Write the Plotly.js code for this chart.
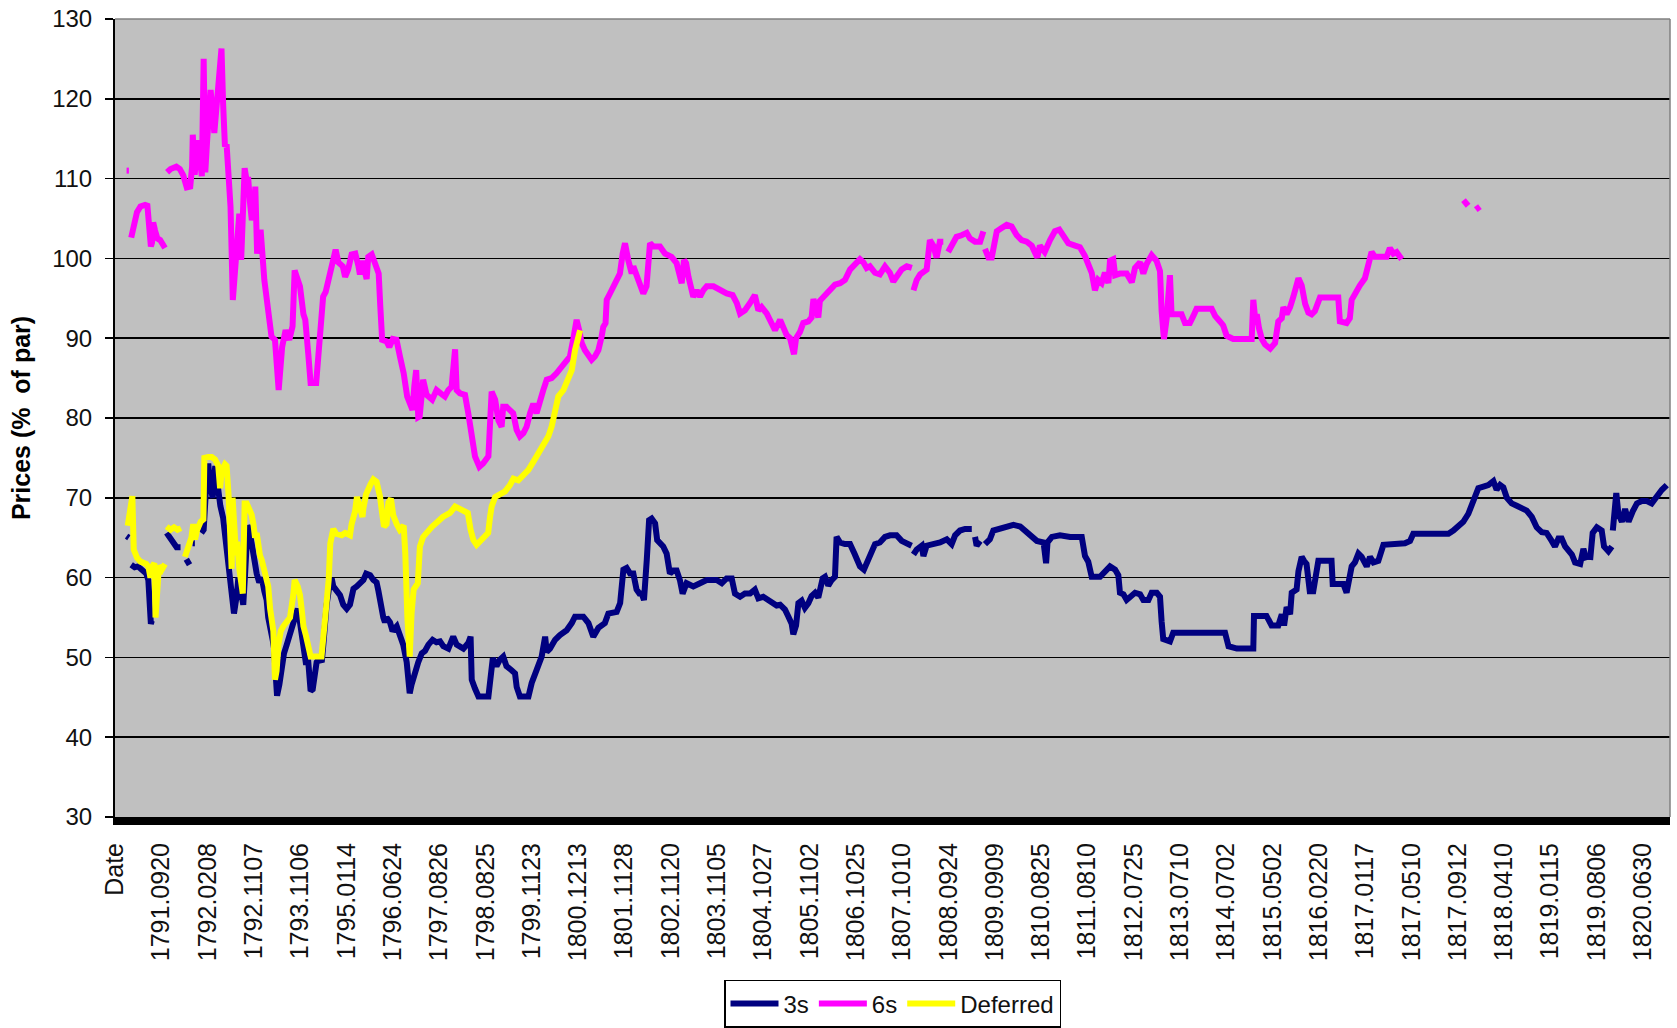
<!DOCTYPE html>
<html>
<head>
<meta charset="utf-8">
<script src="https://cdn.plot.ly/plotly-3.0.1.min.js"></script>
<style>
  html, body { margin: 0; padding: 0; background: #fff; }
  #chart { width: 1677px; height: 1028px; }
</style>
</head>
<body>
<div id="chart"></div>
<script>
// Category axis: one tick label every 20 category positions
const dateLabels = ["Date","1791.0920","1792.0208","1792.1107","1793.1106","1795.0114","1796.0624","1797.0826","1798.0825","1799.1123","1800.1213","1801.1128","1802.1120","1803.1105","1804.1027","1805.1102","1806.1025","1807.1010","1808.0924","1809.0909","1810.0825","1811.0810","1812.0725","1813.0710","1814.0702","1815.0502","1816.0220","1817.0117","1817.0510","1817.0912","1818.0410","1819.0115","1819.0806","1820.0630"];
const labelEvery = 20;

// Series as [category position, price] pairs; null = missing quotes (gap)
const threes = [
[5,65.2],[6,65],null,
[7,61.6],[8.5,61.3],[10,61.4],[12,61],[13.5,60.5],[14.4,59.7],[14.7,58.5],[15.2,55],[15.5,54.2],[15.9,54.6],null,
[22.3,65.6],[23.8,65],[25.2,64.2],[26.6,63.8],[28.3,63.8],null,
[30.8,62.3],[32.2,61.6],null,
[33.5,64.3],[34.5,64.3],null,
[37.3,65.6],[38.3,66],[39.5,72],[40.3,74.3],[41,71.7],[42.2,70],[43.3,74],[44.4,71.2],[45.5,69],[46.7,67.5],[47.9,64.5],[49,62.8],[49.7,60.3],[50.4,58.9],[51.4,55.5],[52.6,57.8],[53.3,60],[54,58.9],[54.7,57.2],[55.4,56.6],[56.2,60.5],[57.3,66.5],[58,66.1],[59,63.9],[60,62.2],[61.2,60.5],[62.3,59.4],[63.4,60],[64.5,58.3],[65.5,57.2],[66.2,55],[67,53.3],[68.1,52.2],[68.7,51.1],[69.5,47.7],[70,45.2],[71,46.6],[72,48.8],[73,50.5],[74.2,51.6],[75.3,52.7],[76.7,53.9],[77.8,55.5],[78.9,56.1],[79.9,54.4],[80.6,52.7],[81.4,50.5],[82.4,49.4],[83.5,49.4],[84.5,45.8],[85.4,46],[86.4,47.7],[87.1,49.4],[88.3,49.9],[89.3,49.4],[90,51.6],[90.7,54.4],[91.4,56.6],[92.6,58.9],[93.6,59.9],[94.3,58.9],[95.8,58.3],[97.2,57.8],[98.6,56.6],[100.1,56.1],[101.5,56.6],[102.2,58],[103,58.6],[104.4,58.9],[105.8,59.2],[107.3,59.7],[108.5,60.5],[110.2,60.3],[111.6,59.7],[113,59.4],[113.8,58.3],[114.5,57.2],[115.2,55.5],[115.9,55],[116.6,54.4],[117.3,55],[118.8,54.4],[119.9,53.3],[121.7,53.9],[123.1,52.7],[124.5,51.6],[126,49.4],[127.3,45.5],[128.1,46.6],[129.6,48.3],[131,49.4],[132.5,50.5],[133.9,50.8],[135.4,51.6],[137.2,52.2],[138.9,51.9],[140.4,52],[141.8,51.4],[144,51.1],[146.1,52.6],[147.6,51.6],[150.5,51.1],[152.6,51.8],[153.6,52.6],[154.1,47.2],[155.5,46.1],[157,45.1],[161.3,45.1],[162,47.6],[163.2,49.9],[164.8,48.9],[166.2,49.7],[167.7,50.1],[169.1,48.9],[171.3,48.4],[172.8,48],[173.5,46.3],[174.9,45.1],[178.6,45.1],[180,46.8],[182.1,48.4],[184.3,50.1],[185.8,52.6],[186.5,50.7],[187.9,51.1],[190.1,52.2],[192.2,52.8],[195.1,53.4],[197.3,54.3],[198.7,55.1],[202.3,55.1],[204.5,54.3],[206.6,52.6],[208.8,53.7],[211.6,54.3],[213.1,55.5],[216.7,55.7],[218.2,56.8],[219.6,61],[221,61.2],[222.5,60.5],[223.9,60.5],[225.3,58.5],[226.5,58],[227.5,58],[228.5,57.2],[229.7,62.2],[230.7,67.2],[231.8,67.4],[233.3,66.8],[234.2,64.7],[235.4,64.3],[236.8,63.9],[238.3,63],[239.7,60.5],[241.2,60.9],[242.6,60.9],[244,59.7],[245.2,58],[246.9,59.3],[249.8,58.9],[252.7,59.3],[255.6,59.7],[259.9,59.7],[262.1,59.3],[264.2,59.9],[266.4,59.9],[267.8,58],[270,57.6],[272.1,58],[274.3,58],[276.4,58.5],[277.9,57.4],[280,57.6],[282.2,57.2],[284.4,56.6],[285.8,56.5],[287.3,56.6],[289.4,56],[290.9,55.1],[292.3,54.2],[293,52.9],[294.2,54],[295.2,56.8],[296.6,57.1],[298,56.2],[299.5,56.8],[300.9,57.7],[302.4,58.1],[303.8,57.5],[304.5,58.6],[305.7,59.9],[306.7,60.1],[308.1,59],[309.6,59.7],[311,60.1],[311.7,65.1],[313.2,64.4],[315.3,64.2],[317.5,64.2],[319.6,62.9],[321.8,61.4],[323.5,61],[325.4,62.3],[326.8,63.3],[328.3,64.2],[330.4,64.4],[332.6,65.1],[334.8,65.3],[337.6,65.3],[339.8,64.6],[341.9,64.2],[344.1,64],null,
[344.9,62.9],[346.3,63.5],[348.5,64],[349.2,62.7],[350.6,64],[353.5,64.2],[356.4,64.4],[359.3,64.8],[361.4,64.2],[362.9,65.3],[365,65.9],[367.2,66.1],[370.1,66.1],null,
[371.5,65.1],[372.2,64],[373.7,64.6],null,
[375.8,64.2],[377.9,64.8],[379.4,65.9],[382.3,66.1],[385.2,66.4],[388.1,66.6],[391,66.4],[393.8,65.7],[396,65.1],[398.2,64.6],[401.1,64.4],[402.2,61.8],[402.8,64.4],[404.7,65.1],[408.2,65.3],[412.6,65.1],[417.6,65.1],[419,62.7],[420.4,62],[421.9,60.1],[425.5,60.1],[428.4,60.9],[429.8,61.4],[432,61],[433.4,60.3],[434.1,58.1],[435.6,57.9],[437,57.2],[438.5,57.6],[440.6,58.1],[442.8,57.9],[444.2,57.2],[446.4,57.2],[447.8,58.1],[450,58.1],[451.4,57.6],[452.1,54.5],[452.8,52.3],[455.7,52],[457.1,53.1],[479.5,53.1],[481,51.4],[484.6,51.1],[491.7,51.1],[492,55.2],[497.4,55.2],[499.6,54],[502.5,54],[504,55.4],[505,54],[506.1,56.3],[507.6,55.4],[508.3,58.1],[510.4,58.5],[511.2,60.8],[512.6,62.6],[513.6,62.1],[514.7,61.7],[516.1,58.3],[517.6,58.3],[519.8,62.1],[525.5,62.1],[526,59.2],[530.6,59.2],[532,58.1],[533.2,59.9],[534.2,61.4],[535.6,61.9],[537.1,63],[538.5,62.6],[540.7,61.4],[542.1,62.6],[543.6,61.9],[545.7,62.1],[547.9,64.1],[557.2,64.3],[559.4,64.6],[560.8,65.5],[572.4,65.4],[576,65.5],[578.1,65.9],[580.3,66.5],[582.4,67],[584.6,68],[586,69],[587.4,70.3],[588.9,71.2],[591.1,71.4],[593.2,71.6],[595.4,72.1],[596.8,71],[598.3,71.6],[599.7,71.3],[601.2,70],[603.3,69.3],[605.5,69],[607.6,68.6],[609.8,68.4],[612,67.6],[614.1,66.3],[616.3,65.7],[618.4,65.6],[620.6,64.6],[622,63.9],[623.5,64.9],[624.9,64.9],[626.4,63.9],[627.8,63.3],[629.3,62.9],[630.7,61.9],[632.9,61.7],[634.3,63.6],[635.8,62.2],null,
[637.2,62.2],[638.3,65.6],[640.1,66.3],[642.2,65.9],[643.2,63.9],[645.1,63.3],[646.6,63.9],null,
[647,65.9],[648.5,70.6],[649.4,68],[650.9,67],[652.3,68.6],[653.8,67],[655.6,68.3],[657.4,69.3],[659.5,69.6],[661.7,69.6],[663.8,69.3],[666,70.3],[668.2,71],[670.3,71.6]
];

const sixes = [
[5,111],[6,111],null,
[7,102.6],[8.5,104.5],[9.5,105.8],[11,106.5],[13,106.7],[14,106.6],[15,104],[15.5,101.5],[16,102],[16.5,104.5],[17.3,103.5],[18.3,102.5],[19.5,102.3],[21,101.5],[21.6,101.3],null,
[22.5,110.8],[24,111.2],[26.5,111.5],[28,111.2],[29.5,110.4],[31,108.9],[32.5,109],[33.3,111.5],[33.6,115.5],[34.4,110.5],[35.9,114.8],[37,112],[37.5,110.3],[38.3,125],[39,110.8],[39.8,114.8],[41.3,121.1],[42.9,115.7],[44.4,121.1],[45.3,123],[46,126.3],[46.7,119.4],[47.5,114],[48.2,114.3],[49.1,110.7],[49.9,106.5],[50.9,94.8],[52.1,100.6],[53,104],[53.7,105.6],[54.5,99.8],[55.3,106],[56,111.3],[57,109.5],[57.5,110.2],[58.3,107],[59.1,104.8],[60,106],[60.6,109],[61.4,100.6],[62.9,103.6],[64.5,97.3],[66,93.1],[67.6,90.2],[69.1,89.8],[70.3,83.5],[70.7,83.5],[72.2,88.9],[73.7,91],[75.3,89.8],[76.7,91.5],[77.6,98.5],[79.9,96.5],[81.4,93],[82.2,92.3],[83.5,88],[84.5,84.4],[86.9,84.4],[88.4,89.4],[89.9,95.2],[91,95.8],[92.3,97.3],[95.3,101.1],[96.5,99.5],[98.4,99],[99.4,97.7],[100.7,98.6],[102.2,100.5],[103.8,100.6],[105.1,99.1],[105.8,98],[106.8,99.7],[108,98.3],[108.7,97.4],[109.4,100.2],[110.9,100.5],[112.3,99.4],[113.9,98.1],[114.6,94],[115.4,89.8],[117.3,89.6],[118.5,88.9],[120,89.9],[121.6,89.8],[123.1,87.7],[124.7,85.6],[126.2,82.7],[127.7,81.2],[128.5,81],[129.3,84],[130.1,86],[131,80.1],[131.6,80.2],[133.1,84.8],[134.6,82.9],[137,82.3],[138.9,83.5],[141.1,83],[142.5,82.7],[144,83.5],[145.4,83.9],[146.9,88.6],[147.6,83.5],[149,83.1],[151.2,82.9],[152.6,80.6],[153.5,79],[154.7,77.7],[155.5,75.2],[157.4,73.9],[159,74.3],[161.3,75.2],[162,79.7],[162.7,83.3],[164.2,82.3],[165.6,79.7],[167,78.9],[167.7,81.4],[169.1,81.4],[170.5,81],[172,80.6],[173.5,78.5],[174.9,77.7],[176.4,78.1],[177.8,78.9],[179.3,80.6],[180.7,81.8],[182.1,80.6],[183.6,82.3],[185,83.5],[186.5,84.8],[188.6,85],[190.7,85.6],[192.9,86.4],[194.8,86.8],[196.5,87.7],[197.9,89.8],[199.4,92.3],[200.5,91],[201.6,89.4],[203,88.5],[204.4,87.9],[205.9,87.3],[207.3,87.7],[208.8,88.5],[210.2,90.2],[210.9,91.4],[211.9,91.9],[212.4,94.8],[213.8,95.6],[216,96.9],[218.1,98.1],[219.3,100.6],[220.3,101.9],[221.7,99.8],[223.2,98.1],[223.9,99],[225.3,97.7],[226.7,96.5],[228.2,95.6],[229.6,96.5],[230.4,99.8],[231.1,101.9],[232.5,101.5],[235.4,101.5],[237.6,100.6],[240.4,100.2],[242.6,99.4],[243.8,97.7],[244.8,96.9],[245.8,99.8],[246.7,99.4],[247.7,97.7],[248.7,96.5],[249.8,95.2],[251.3,96],[252.7,95.2],[254.1,96],[255.6,96.5],[258.5,96.5],[261.3,96],[264.2,95.6],[266.8,95.4],[268.6,94.4],[270,93.1],[272.1,93.5],[274.3,94.4],[276.4,95.4],[277.9,93.5],[279.3,93.9],[281.5,93.1],[283.6,91.9],[285.1,91],[287.3,92.3],[288.7,91.3],[290.1,90.4],[291.6,90],[293.3,88],[294.2,90],[295.9,90.8],[297.3,91.9],[299.5,92.1],[300.9,92.6],[301.7,94.9],[303.1,93.4],[303.8,92.6],[304.5,94.7],[306.7,95.4],[308.8,96],[311,96.7],[313.2,96.9],[315.3,97.3],[317.5,98.6],[319.7,99.3],[321.8,99.9],[323.3,99.5],[324.7,98.8],[326.1,99],[328.3,98.2],[330.4,98],[332.6,99],[334.7,98.2],[336.2,97.1],[337.6,97.7],[339.8,98.6],[342,99],[344.2,98.8],null,
[344.9,96],[346.3,97.3],[347.8,98],[349.2,98.4],[350.6,98.6],[352,102.3],[353.5,101.6],[354.9,100.1],[356.3,102.1],[357.8,102.1],null,
[359.9,100.8],[361.4,101.6],[363.5,102.7],[365.7,102.9],[367.9,103.2],[369.3,102.5],[371.5,102.1],[373.7,102.1],[375.1,103.4],null,
[375.8,101.2],[377.3,100.1],[378.7,100.1],[379.4,101.2],[380.9,103.4],[383,103.8],[385.2,104.2],[387.3,104],[389.5,102.9],[391.6,102.3],[393.8,102.1],[396,101.6],[398.4,100.1],[399.5,101.6],[401.6,100.8],[403.9,102.3],[406,103.4],[407.9,103.6],[409.6,102.9],[411.8,101.9],[414.7,101.6],[416.8,101.4],[419,100.3],[420.4,99],[421.9,98.2],[423.3,96],[424.7,97.3],[426.2,96.9],[427.6,98.2],[429.1,96.9],[429.8,99.7],[431.2,99.9],[432,97.9],[434.1,98.1],[437,98.1],[439.2,97],[440.6,98.8],[442.8,99.5],[444.2,98.1],[445.6,99.3],[447.8,100.4],[449.9,99.7],[451.4,98.4],[452.1,93.4],[453.1,89.9],[454.3,92.5],[455,95.7],[455.7,97.9],[456.4,93],[460.7,93],[462.2,91.9],[464.3,91.9],[465.8,92.8],[467.2,93.7],[473.7,93.7],[475.2,92.8],[477.3,92.1],[478.7,91.6],[480.2,90.3],[483,89.9],[491,89.9],[491.7,94.8],[492.5,92.5],[493.2,93],[494.2,91.2],[495.4,89.9],[496.8,89.2],[499,88.7],[501.1,89.4],[501.8,91.2],[502.5,92.1],[504,92.5],[504.7,93.9],[506.1,93],[507.6,93.9],[509,95.2],[510.4,97],[511.2,97.5],[512.6,96.6],[514.1,94.3],[515.5,93.2],[516.9,93],[518.3,93.4],[519.8,94.8],[520.5,95.1],[528.4,95.1],[529.1,92.1],[532,91.9],[533.4,92.5],[534.2,94.8],[535.6,95.7],[537.7,96.6],[539.9,97.5],[541.4,99.3],[542.8,100.8],[544.2,100.2],[549.3,100.2],[550.7,101.3],[552.2,100.6],[553.6,100.8],[555.8,99.9],null,
[582.5,107.3],[584.5,106.6],null,
[587.8,106.1],[589.6,106.5]
];

const deferred = [
[5.5,66.5],[6.5,68.5],[7.5,70.2],[8.1,63.5],[9.5,62.5],[11,62],[13.5,61.7],[14.5,61.3],[15.3,60],[16.3,61.5],[17,61.8],[17.5,55],[18.2,60],[19,61.5],[20.2,61],[21.6,61.7],null,
[22.3,66.4],[24,66],[25.5,66.3],[27,66],[28.5,66.2],null,
[30.2,62.6],[31.5,64],[33,65],[33.8,66.7],[34.6,64.8],[35.5,66],[37,67],[38.2,67.3],[38.6,75],[40.3,75.1],[41.8,75.1],[43.2,74.8],[44.6,74],[45.4,71.2],[46.1,73.4],[47.5,74.2],[48.2,74],[49,70.6],[49.7,65.6],[50.4,61.1],[50.8,70],[51.4,65.6],[52.3,62.8],[52.8,64.5],[53.7,61.1],[55.2,58],[56,69.3],[56.9,69.3],[58,68.5],[59,67.9],[59.8,66.7],[60.5,65],[61.2,65.6],[61.9,63.9],[62.6,62.8],[63.4,62.2],[64.4,61.1],[65.5,59.4],[66.2,58.9],[67,56.1],[67.6,55],[68.4,53.3],[69.1,47.2],[69.8,48.3],[70.6,51.6],[71.6,53.3],[72.7,53.9],[74.2,54.4],[75.6,55],[77,57.8],[77.6,59.7],[78.9,58.9],[79.9,57.8],[80.6,56.1],[81.4,53.9],[82.5,52.7],[83.5,51.6],[84.5,50.1],[86,50.1],[89.2,50.1],[90.7,54.7],[92.3,59.7],[93,64.3],[94.3,66.1],[95.5,65.5],[97.9,65.3],[99.4,65.6],[101.5,65.3],[102.2,66.7],[103.7,68.3],[104.5,70.1],[105.5,68.9],[106.9,67.6],[107.3,68.7],[108.4,70.4],[110.4,71.7],[111.6,72.3],[113,72],[113.7,71.2],[114.5,70.1],[115.2,68.5],[116.2,66.4],[117.3,66.7],[118.1,69.4],[119.2,69.9],[120.2,67.8],[121.7,66.7],[123,66],[124.7,66.5],[125.4,63],[126.3,55],[127.3,50.1],[128.1,55.5],[129,58.5],[130.8,59.3],[131.7,63.9],[133.1,65.1],[135,65.8],[137,66.4],[139,66.9],[141.6,67.6],[144.7,68.1],[146.9,68.9],[148.3,68.7],[150,68.4],[152.4,68.1],[153.6,66],[154.8,64.7],[156.2,64.1],[157.6,64.5],[159.8,65.1],[161.2,65.6],[162,67.6],[162.7,68.9],[164.2,70.1],[166.3,70.4],[168.5,70.8],[170.6,71.6],[172.1,72.4],[174.2,72.2],[176.4,72.9],[178.6,73.5],[180.7,74.5],[182.9,75.6],[185,76.6],[187.2,77.7],[188.6,78.9],[190.1,81.4],[191.5,82.7],[193.7,83.5],[195.9,84.8],[197.3,86],[198.7,88.5],[200.2,90.8],[200.9,91]
];

const yTicks = [30,40,50,60,70,80,90,100,110,120,130];

function xs(s){ return s.map(p => p === null ? null : p[0]); }
function ys(s){ return s.map(p => p === null ? null : p[1]); }

const common = { type: 'scatter', mode: 'lines', connectgaps: false, hoverinfo: 'skip' };
const traces = [
  Object.assign({}, common, { name: '3s', x: xs(threes), y: ys(threes), line: { color: '#000080', width: 6 } }),
  Object.assign({}, common, { name: '6s', x: xs(sixes), y: ys(sixes), line: { color: '#FF00FF', width: 6 } }),
  Object.assign({}, common, { name: 'Deferred', x: xs(deferred), y: ys(deferred), line: { color: '#FFFF00', width: 6 } })
];

const tickPositions = dateLabels.map((_, i) => i * labelEvery);
const textFont = { family: 'Liberation Sans, Arial, sans-serif', color: '#111' };

const layout = {
  width: 1677, height: 1028,
  margin: { l: 115, r: 7, t: 19, b: 211, autoexpand: false },
  paper_bgcolor: '#ffffff',
  plot_bgcolor: '#C0C0C0',
  showlegend: true,
  xaxis: {
    range: [0, 671.7],
    tickmode: 'array', tickvals: tickPositions, ticktext: dateLabels,
    tickangle: -90, ticks: '', showgrid: false, zeroline: false,
    showline: true, linecolor: '#000', linewidth: 8,
    tickfont: Object.assign({ size: 25 }, textFont),
    ticklabelstandoff: 8
  },
  yaxis: {
    range: [30, 130],
    tickmode: 'array', tickvals: yTicks,
    ticks: 'outside', ticklen: 8, tickwidth: 1.5, tickcolor: '#000',
    showline: true, linecolor: '#000', linewidth: 2,
    showgrid: true, gridcolor: '#000', gridwidth: 1.5,
    zeroline: false,
    tickfont: Object.assign({ size: 24 }, textFont),
    ticklabelstandoff: 8,
    title: { text: 'Prices (%  of par)', font: { family: 'Liberation Sans, Arial, sans-serif', size: 25, color: '#000', weight: 'bold' }, standoff: 14 }
  },
  legend: {
    orientation: 'h', x: 0.5, xanchor: 'center', y: -0.204, yanchor: 'top',
    bgcolor: '#fff', bordercolor: '#000', borderwidth: 1.5,
    font: { family: 'Liberation Sans, Arial, sans-serif', size: 24, color: '#111' },
    itemwidth: 48, tracegroupgap: 0
  },
  shapes: [
    { type: 'line', xref: 'paper', yref: 'paper', x0: 0, x1: 1, y0: 1, y1: 1, line: { color: '#808080', width: 1.5 }, layer: 'above' },
    { type: 'line', xref: 'paper', yref: 'paper', x0: 1, x1: 1, y0: 0, y1: 1, line: { color: '#808080', width: 1.5 }, layer: 'above' }
  ]
};

Plotly.newPlot('chart', traces, layout, { staticPlot: true, displayModeBar: false });
</script>
</body>
</html>
